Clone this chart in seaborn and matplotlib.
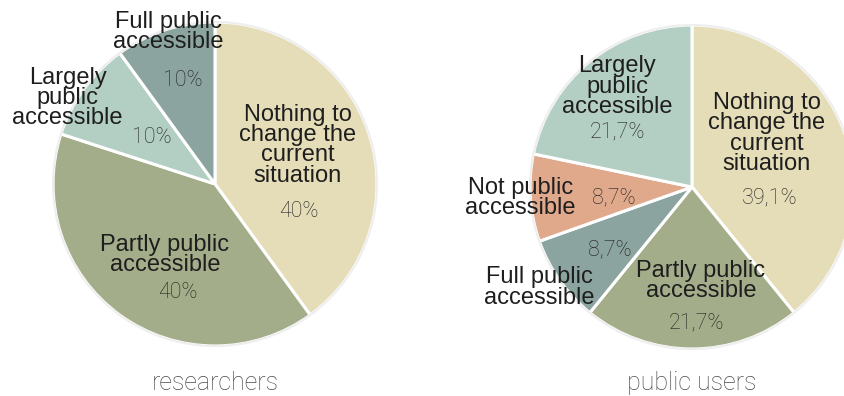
import matplotlib
matplotlib.use("Agg")
import matplotlib.pyplot as plt
import seaborn as sns
import numpy as np

sns.set_theme(style="white")
plt.rcParams["font.family"] = ["Liberation Sans", "DejaVu Sans"]

# Answer categories and shares (%)
res_labels = ["Nothing to\nchange the\ncurrent\nsituation", "Partly public\naccessible",
              "Largely\npublic\naccessible", "Full public\naccessible"]
res_values = [40, 40, 10, 10]
res_pct = ["40%", "40%", "10%", "10%"]

pub_labels = ["Nothing to\nchange the\ncurrent\nsituation", "Partly public\naccessible",
              "Full public\naccessible", "Not public\naccessible",
              "Largely\npublic\naccessible"]
pub_values = [39.1, 21.7, 8.7, 8.7, 21.7]
pub_pct = ["39,1%", "21,7%", "8,7%", "8,7%", "21,7%"]

colors = {
    "Nothing": "#E5DDB8",
    "Partly": "#A4AD8A",
    "Largely": "#B3CEC3",
    "Full": "#8BA49F",
    "Not": "#E1A98C",
}
res_colors = [colors["Nothing"], colors["Partly"], colors["Largely"], colors["Full"]]
pub_colors = [colors["Nothing"], colors["Partly"], colors["Full"], colors["Not"], colors["Largely"]]

# label placement (units of pie radius, relative to pie centre)
res_label_xy = [(0.51, 0.24), (-0.31, -0.44), (-0.91, 0.53), (-0.29, 0.94)]
res_pct_xy = [(0.52, -0.17), (-0.23, -0.67), (-0.39, 0.29), (-0.20, 0.64)]
pub_label_xy = [(0.46, 0.33), (0.055, -0.58), (-0.94, -0.62), (-1.06, -0.07), (-0.46, 0.62)]
pub_pct_xy = [(0.48, -0.07), (0.03, -0.84), (-0.51, -0.39), (-0.48, -0.07), (-0.46, 0.34)]

W, H = 845, 396
fig = plt.figure(figsize=(W / 100, H / 100), dpi=100)

R = 162.0      # pie radius in pixels
HALF = 260.0   # half-size of each axes box in pixels


def add_pie(cx, cy, values, cols, labels, pcts, lab_xy, pct_xy, title):
    ax = fig.add_axes([(cx - HALF) / W, 1 - (cy + HALF) / H, 2 * HALF / W, 2 * HALF / H])
    ax.pie(values, colors=cols, startangle=90, counterclock=False,
           wedgeprops=dict(edgecolor="white", linewidth=2.2), radius=1.0)
    ax.set_xlim(-HALF / R, HALF / R)
    ax.set_ylim(-HALF / R, HALF / R)
    ax.set_aspect("equal")
    ax.axis("off")
    ax.patch.set_alpha(0)
    # faint rim around the pie
    ax.add_patch(plt.Circle((0, 0), 1.0, fill=False, edgecolor="#EEEEEE", lw=1.5))
    for txt, (x, y) in zip(labels, lab_xy):
        ax.text(x, y, txt, ha="center", va="center", fontsize=17,
                color="#1E1E1E", linespacing=0.9, clip_on=False)
    for txt, (x, y) in zip(pcts, pct_xy):
        ax.text(x, y, txt, ha="center", va="center", fontsize=15.5,
                color="#222222", family=["Roboto", "DejaVu Sans"], weight="light")
    ax.text(0, -(383 - cy) / R, title, ha="center", va="center", fontsize=18,
            color="#4A4A4A", family=["Roboto", "DejaVu Sans"], weight="light")
    return ax


add_pie(215, 184, res_values, res_colors, res_labels, res_pct, res_label_xy, res_pct_xy, "researchers")
add_pie(692, 187, pub_values, pub_colors, pub_labels, pub_pct, pub_label_xy, pub_pct_xy, "public users")

fig.savefig("out.png", dpi=100)
